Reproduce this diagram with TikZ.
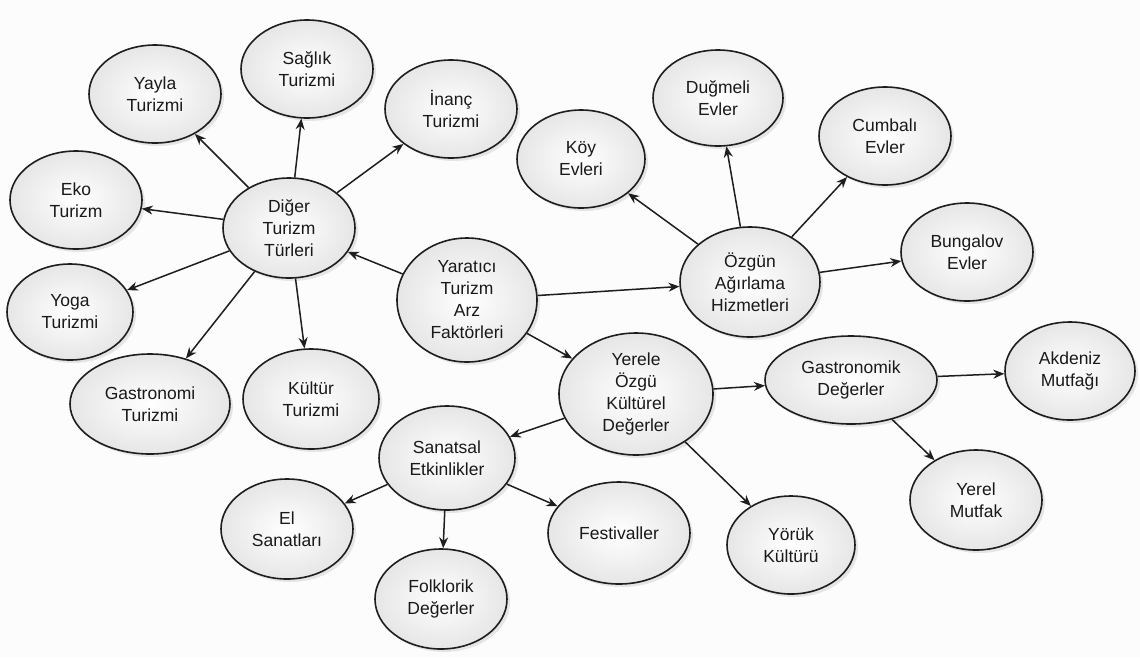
\documentclass[tikz,border=0pt]{standalone}
\usepackage{fontspec}
\setmainfont{Liberation Sans}
\usetikzlibrary{shapes.geometric,arrows.meta,shadows}
\definecolor{edgec}{HTML}{1E1E1E}
\definecolor{fillout}{HTML}{E6E6E6}
\tikzset{
  bub/.style={ellipse, draw=edgec, line width=1.6pt, inner sep=0pt,
    shading=radial, inner color=white, outer color=fillout,
    drop shadow={shadow xshift=3pt, shadow yshift=-3pt, opacity=0.18, fill=gray},
    align=center, text=black!90,
    font=\fontsize{17.5}{22}\selectfont},
  link/.style={draw=edgec, line width=1.5pt, -{Stealth[length=11pt,width=9pt]}}
}
\newcommand{\bubble}[5]{\node[bub, minimum width=#3pt, minimum height=#4pt] (#1) at #2 {#5};}
\begin{document}
\begin{tikzpicture}[x=1pt,y=-1pt]
\fill[white!98!gray] (0,0) rectangle (1140,657);
\useasboundingbox (0,0) rectangle (1140,657);
\bubble{yayla}{(155,94)}{132}{98}{Yayla\\Turizmi}
\bubble{saglik}{(307,69)}{132}{98}{Sağlık\\Turizmi}
\bubble{inanc}{(451,109)}{132}{98}{İnanç\\Turizmi}
\bubble{eko}{(76,200)}{132}{98}{Eko\\Turizm}
\bubble{diger}{(289,228)}{132}{100}{Diğer\\Turizm\\Türleri}
\bubble{yoga}{(70,312)}{126}{96}{Yoga\\Turizmi}
\bubble{gastt}{(150,404)}{160}{100}{Gastronomi\\Turizmi}
\bubble{kultur}{(311,399)}{136}{100}{Kültür\\Turizmi}
\bubble{yaratici}{(467,300)}{140}{124}{Yaratıcı\\Turizm\\Arz\\Faktörleri}
\bubble{koy}{(581,159)}{128}{98}{Köy\\Evleri}
\bubble{dugmeli}{(718,98)}{130}{96}{Duğmeli\\Evler}
\bubble{ozgun}{(750,282)}{140}{110}{Özgün\\Ağırlama\\Hizmetleri}
\bubble{cumbali}{(885,136)}{132}{98}{Cumbalı\\Evler}
\bubble{bungalov}{(967,252)}{132}{98}{Bungalov\\Evler}
\bubble{yerele}{(636,394)}{154}{122}{Yerele\\Özgü\\Kültürel\\Değerler}
\bubble{gastd}{(851,380)}{172}{88}{Gastronomik\\Değerler}
\bubble{akdeniz}{(1070,371)}{130}{98}{Akdeniz\\Mutfağı}
\bubble{yerelm}{(976,500)}{132}{100}{Yerel\\Mutfak}
\bubble{yoruk}{(791,545)}{128}{98}{Yörük\\Kültürü}
\bubble{sanatsal}{(447,458)}{136}{104}{Sanatsal\\Etkinlikler}
\bubble{el}{(287,529)}{132}{100}{El\\Sanatları}
\bubble{folk}{(441,599)}{132}{100}{Folklorik\\Değerler}
\bubble{fest}{(619,533)}{142}{102}{Festivaller}

\foreach \t in {yayla,saglik,inanc,eko,yoga,gastt,kultur}
  \draw[link] (diger) -- (\t);
\draw[link] (yaratici) -- (diger);
\draw[link] (yaratici) -- (ozgun);
\draw[link] (yaratici) -- (yerele);
\foreach \t in {koy,dugmeli,cumbali,bungalov}
  \draw[link] (ozgun) -- (\t);
\draw[link] (yerele) -- (gastd);
\draw[link] (yerele) -- (yoruk);
\draw[link] (yerele) -- (sanatsal);
\draw[link] (gastd) -- (akdeniz);
\draw[link] (gastd) -- (yerelm);
\draw[link] (sanatsal) -- (el);
\draw[link] (sanatsal) -- (folk);
\draw[link] (sanatsal) -- (fest);
\end{tikzpicture}
\end{document}
